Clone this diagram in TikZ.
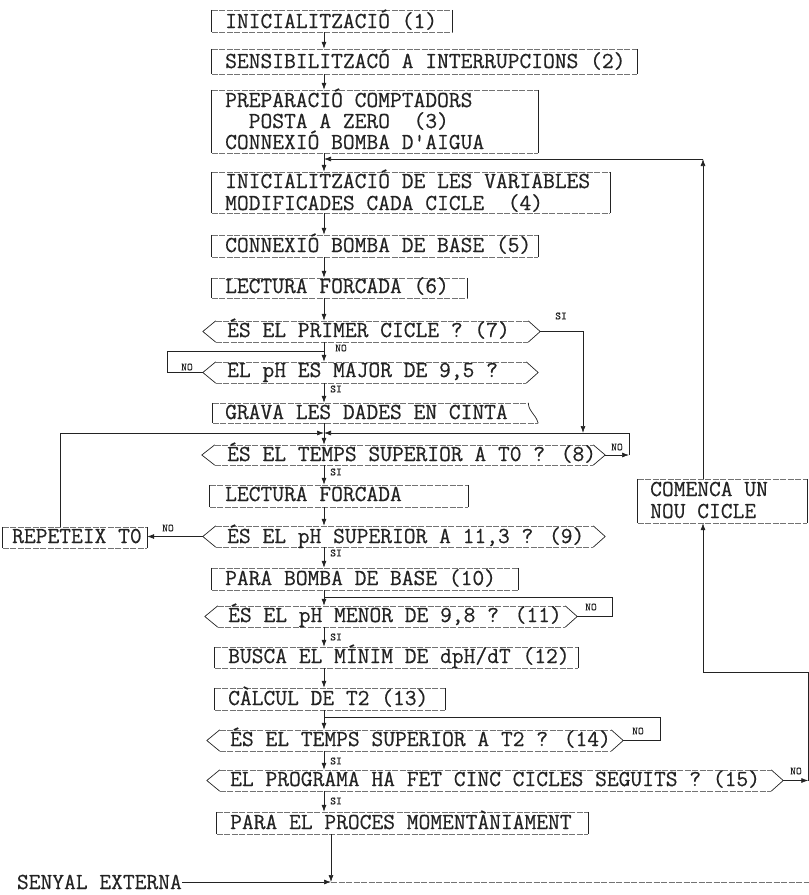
\documentclass[tikz,border=0pt]{standalone}
\usepackage{fontspec}
\newfontfamily\typefont[FakeBold=0.5]{Latin Modern Mono}
\usetikzlibrary{arrows.meta,fit}
\definecolor{ink}{RGB}{35,35,35}
\definecolor{rule}{RGB}{115,115,115}
\begin{document}
\begin{tikzpicture}[x=1pt,y=-1pt,
  txt/.style={anchor=base west,inner sep=0pt,text=ink,font=\typefont\fontsize{22.86}{20}\selectfont},
  lbl/.style={inner sep=0pt,text=ink,font=\typefont\fontsize{11}{11}\selectfont},
  boxfit/.style={draw=none,inner sep=0pt,fit={#1}},
  hedge/.style={draw=rule,line width=0.6pt,dash pattern=on 6pt off 1.5pt},
  vedge/.style={draw=ink,line width=0.7pt},
  wire/.style={draw=ink,line width=0.7pt},
  arr/.style={wire,-{Latex[length=7pt,width=5pt]}},
]
\useasboundingbox (0,0) rectangle (809,895);

% ---------- process boxes ----------
\node[boxfit={(212,10)(452,32)}]   (b1) {};
\node[boxfit={(212,49)(637,74)}]   (b2) {};
\node[boxfit={(212,90)(538,153)}]  (b3) {};
\node[boxfit={(212,172)(610,213)}] (b4) {};
\node[boxfit={(212,235)(538,257)}] (b5) {};
\node[boxfit={(212,278)(467,298)}] (b6) {};
\node[boxfit={(213,403)(538,423)}] (bg) {};
\node[boxfit={(210,485)(468,507)}] (bl2) {};
\node[boxfit={(3,527)(147,548)}]   (rep) {};
\node[boxfit={(212,568)(518,590)}] (b10) {};
\node[boxfit={(215,647)(578,668)}] (b12) {};
\node[boxfit={(215,688)(445,710)}] (b13) {};
\node[boxfit={(217,812)(588,834)}] (bp) {};
\node[boxfit={(638,479)(807,523)}] (bc) {};

% ---------- decisions ----------
\node[boxfit={(203,321)(540,342)}] (d7) {};
\node[boxfit={(203,362)(538,383)}] (d95) {};
\node[boxfit={(202,445)(605,465)}] (d8) {};
\node[boxfit={(203,526)(605,547)}] (d9) {};
\node[boxfit={(205,606)(577,627)}] (d11) {};
\node[boxfit={(207,730)(623,751)}] (d14) {};
\node[boxfit={(207,770)(783,791)}] (d15) {};

% box outlines: typed rules on top and bottom, brackets at the sides
\foreach \n in {b1,b2,b3,b4,b5,b6,bl2,rep,b10,b12,b13,bp,bc}{
  \draw[hedge] (\n.north west) -- (\n.north east) (\n.south west) -- (\n.south east);
  \draw[vedge] (\n.north west) -- (\n.south west) (\n.north east) -- (\n.south east);
}
\draw[hedge] (bg.north west) -- ([xshift=-10pt]bg.north east) (bg.south west) -- (bg.south east);
\draw[vedge] (bg.north west) -- (bg.south west);
\draw[vedge] ([xshift=-10pt]bg.north east) .. controls ([xshift=-9pt]bg.east) and ([xshift=-3pt]bg.east) .. (bg.south east);

\foreach \n in {d7,d95,d8,d9,d11,d14,d15}{
  \draw[hedge] ([xshift=13pt]\n.north west) -- ([xshift=-12pt]\n.north east)
               ([xshift=13pt]\n.south west) -- ([xshift=-12pt]\n.south east);
  \draw[vedge] ([xshift=13pt]\n.north west) -- (\n.west) -- ([xshift=13pt]\n.south west)
               ([xshift=-12pt]\n.north east) -- (\n.east) -- ([xshift=-12pt]\n.south east);
}

% ---------- texts ----------
\node[txt] (t1)  at (225,28)  {INICIALITZACIÓ (1)};
\node[txt] (t2)  at (225,68)  {SENSIBILITZACÓ A INTERRUPCIONS (2)};
\node[txt] (t3a) at (225,107) {PREPARACIÓ COMPTADORS};
\node[txt] (t3b) at (225,128) {\ \ POSTA A ZERO\ \ (3)};
\node[txt] (t3c) at (225,149) {CONNEXIÓ BOMBA D'AIGUA};
\node[txt] (t4a) at (225,188) {INICIALITZACIÓ DE LES VARIABLES};
\node[txt] (t4b) at (225,210) {MODIFICADES CADA CICLE\ \ (4)};
\node[txt] (t5)  at (225,252) {CONNEXIÓ BOMBA DE BASE (5)};
\node[txt] (t6)  at (225,293) {LECTURA FORCADA (6)};
\node[txt] (t7)  at (227,337) {ÉS EL PRIMER CICLE ? (7)};
\node[txt] (t95) at (227,377) {EL pH ES MAJOR DE 9,5 ?};
\node[txt] (tg)  at (225,419) {GRAVA LES DADES EN CINTA};
\node[txt] (t8)  at (227,461) {ÉS EL TEMPS SUPERIOR A T0 ? (8)};
\node[txt] (tl2) at (225,501) {LECTURA FORCADA};
\node[txt] (tr)  at (12,543)  {REPETEIX T0};
\node[txt] (t9)  at (227,543) {ÉS EL pH SUPERIOR A 11,3 ? (9)};
\node[txt] (t10) at (225,585) {PARA BOMBA DE BASE (10)};
\node[txt] (t11) at (228,622) {ÉS EL pH MENOR DE 9,8 ? (11)};
\node[txt] (t12) at (228,663) {BUSCA EL MÍNIM DE dpH/dT (12)};
\node[txt] (t13) at (228,705) {CÀLCUL DE T2 (13)};
\node[txt] (t14) at (230,746) {ÉS EL TEMPS SUPERIOR A T2 ? (14)};
\node[txt] (t15) at (230,786) {EL PROGRAMA HA FET CINC CICLES SEGUITS ? (15)};
\node[txt] (tp)  at (230,829) {PARA EL PROCES MOMENTÀNIAMENT};
\node[txt] (tca) at (650,496) {COMENCA UN};
\node[txt] (tcb) at (650,518) {NOU CICLE};
\node[txt,anchor=east] (se) at (182,882) {SENYAL EXTERNA};

% ---------- reference points for the wiring ----------
\coordinate (sx)  at (324,0);
\coordinate (rx)  at (703,0);
\coordinate (fb)  at (324,159);
\coordinate (k1)  at (324,351);
\coordinate (ql)  at (167,351);
\coordinate (j)   at (324,433);
\coordinate (qs)  at (583,433);
\coordinate (qr)  at (629,433);
\coordinate (xl)  at (60,0);
\coordinate (q11) at (612,597);
\coordinate (q14) at (660,717);
\coordinate (sb)  at (331,882);
\coordinate (br)  at (809,882);
\coordinate (q15) at (808.3,780);
\coordinate (qc)  at (808.3,672);

% ---------- main flow ----------
\draw[arr] (b1.south -| sx) -- (b2.north -| sx);
\draw[arr] (b2.south -| sx) -- (b3.north -| sx);
\draw[arr] (b3.south -| sx) -- (b4.north -| sx);
\draw[arr] (b4.south -| sx) -- (b5.north -| sx);
\draw[arr] (b5.south -| sx) -- (b6.north -| sx);
\draw[arr] (b6.south -| sx) -- (d7.north -| sx);
\draw[arr] (d7.south -| sx) -- (d95.north -| sx);
\draw[wire] (d95.west) -| (ql) -- (k1);
\draw[arr] (d7.east) -| (qs);
\draw[arr] (d95.south -| sx) -- (bg.north -| sx);
\draw[wire] (bg.south -| sx) -- (j);
\draw[arr] (j) -- (d8.north -| sx);
\draw[arr] (d8.east) -- (qr |- d8.east);
\draw[arr] (qr |- d8.east) -- (qr) -- (j);
\draw[arr] (rep.north -| xl) |- (j);
\draw[arr] (d8.south -| sx) -- (bl2.north -| sx);
\draw[arr] (bl2.south -| sx) -- (d9.north -| sx);
\draw[arr] (d9.west) -- (rep.east |- d9.west);
\draw[arr] (d9.south -| sx) -- (b10.north -| sx);
\draw[arr] (b10.south -| sx) -- (d11.north -| sx);
\draw[wire] (d11.east) -| (q11) -- (sx |- q11);
\draw[arr] (d11.south -| sx) -- (b12.north -| sx);
\draw[arr] (b12.south -| sx) -- (b13.north -| sx);
\draw[arr] (b13.south -| sx) -- (d14.north -| sx);
\draw[wire] (d14.east) -| (q14) -- (sx |- q14);
\draw[arr] (d14.south -| sx) -- (d15.north -| sx);
\draw[arr] (d15.south -| sx) -- (bp.north -| sx);
\draw[arr] (bp.south -| sb) -- (sb);
\draw[arr] (se.east) -- (sb);
\draw[hedge] (sb) -- (br);

% ---------- return to a new cycle ----------
\draw[arr] (d15.east) -- (q15 |- d15.east);
\draw[wire] (q15 |- d15.east) -- (qc);
\draw[arr] (qc) -| (bc.south -| rx);
\draw[arr] (bc.north -| rx) -- (rx |- fb);
\draw[arr] (rx |- fb) -- (fb);

% ---------- branch labels ----------
\node[lbl] (n7)  at (341,348) {NO};
\node[lbl] (n95) at (187,367) {NO};
\node[lbl] (s7)  at (561,316) {SI};
\node[lbl] (s95) at (336,389) {SI};
\node[lbl] (n8)  at (617,447) {NO};
\node[lbl] (s8)  at (336,472) {SI};
\node[lbl] (n9)  at (168,528) {NO};
\node[lbl] (s9)  at (336,553) {SI};
\node[lbl] (n11) at (591,607) {NO};
\node[lbl] (s11) at (336,637) {SI};
\node[lbl] (n14) at (638,731) {NO};
\node[lbl] (s14) at (336,761) {SI};
\node[lbl] (n15) at (796,771) {NO};
\node[lbl] (s15) at (336,801) {SI};
\end{tikzpicture}
\end{document}
